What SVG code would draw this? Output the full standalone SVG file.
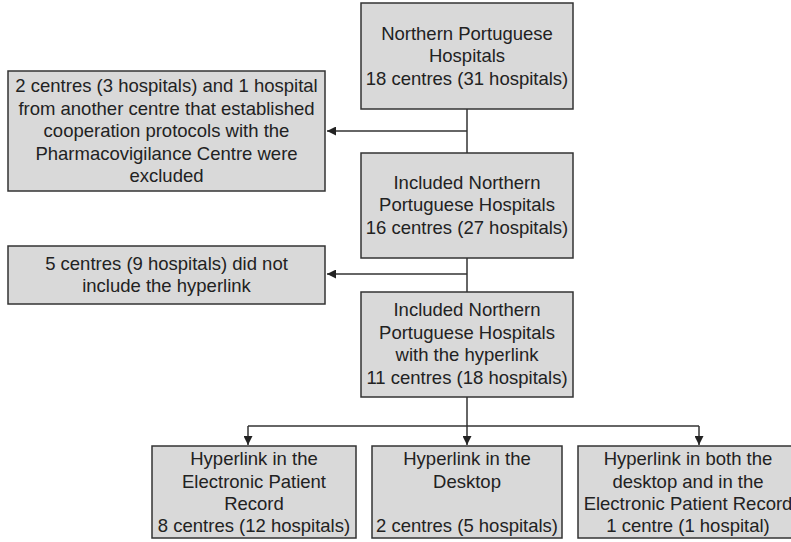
<svg xmlns="http://www.w3.org/2000/svg" width="791" height="542" viewBox="0 0 791 542">
  <style>
    .box { fill: #d9d9d9; stroke: #333333; stroke-width: 1.5; }
    .lbl { font-family: "Liberation Sans", Arial, Helvetica, sans-serif; font-size: 18.5px; fill: #222222; text-anchor: middle; }
    .conn { fill: none; stroke: #333333; stroke-width: 1.5; }
  </style>
  <defs>
    <marker id="arrow" viewBox="0 0 10 10" refX="10" refY="5" markerWidth="9" markerHeight="9" markerUnits="userSpaceOnUse" orient="auto">
      <path d="M0,0 L10,5 L0,10 z" fill="#222222"/>
    </marker>
  </defs>
  <rect width="791" height="542" fill="#ffffff"/>

  <!-- connectors -->
  <g id="connectors">
    <line class="conn" x1="467" y1="109" x2="467" y2="153"/>
    <line class="conn" x1="467" y1="131" x2="327" y2="131" marker-end="url(#arrow)"/>
    <line class="conn" x1="467" y1="258" x2="467" y2="292"/>
    <line class="conn" x1="467" y1="274" x2="327" y2="274" marker-end="url(#arrow)"/>
    <line class="conn" x1="467" y1="397" x2="467" y2="445" marker-end="url(#arrow)"/>
    <line class="conn" x1="248" y1="426" x2="699" y2="426"/>
    <line class="conn" x1="248" y1="426" x2="248" y2="445" marker-end="url(#arrow)"/>
    <line class="conn" x1="699" y1="426" x2="699" y2="445" marker-end="url(#arrow)"/>
  </g>

  <!-- all hospitals -->
  <g id="all-hospitals">
    <rect class="box" x="361" y="3" width="212" height="106"/>
    <text class="lbl" x="467" y="39.5">Northern Portuguese</text>
    <text class="lbl" x="467" y="62">Hospitals</text>
    <text class="lbl" x="467" y="85">18 centres (31 hospitals)</text>
  </g>

  <!-- excluded centres -->
  <g id="excluded">
    <rect class="box" x="8" y="71" width="317" height="120"/>
    <text class="lbl" x="166.5" y="92">2 centres (3 hospitals) and 1 hospital</text>
    <text class="lbl" x="166.5" y="114.5">from another centre that established</text>
    <text class="lbl" x="166.5" y="137">cooperation protocols with the</text>
    <text class="lbl" x="166.5" y="159.5">Pharmacovigilance Centre were</text>
    <text class="lbl" x="166.5" y="182">excluded</text>
  </g>

  <!-- included hospitals -->
  <g id="included">
    <rect class="box" x="361" y="153" width="212" height="105"/>
    <text class="lbl" x="467" y="188.5">Included Northern</text>
    <text class="lbl" x="467" y="211">Portuguese Hospitals</text>
    <text class="lbl" x="467" y="233.5">16 centres (27 hospitals)</text>
  </g>

  <!-- centres without hyperlink -->
  <g id="no-hyperlink">
    <rect class="box" x="8" y="246" width="317" height="58"/>
    <text class="lbl" x="166.5" y="270">5 centres (9 hospitals) did not</text>
    <text class="lbl" x="166.5" y="292">include the hyperlink</text>
  </g>

  <!-- included with hyperlink -->
  <g id="with-hyperlink">
    <rect class="box" x="361" y="292" width="212" height="105"/>
    <text class="lbl" x="467" y="316">Included Northern</text>
    <text class="lbl" x="467" y="338.5">Portuguese Hospitals</text>
    <text class="lbl" x="467" y="361">with the hyperlink</text>
    <text class="lbl" x="467" y="383.5">11 centres (18 hospitals)</text>
  </g>

  <!-- hyperlink in the EPR -->
  <g id="epr">
    <rect class="box" x="152" y="446" width="204" height="92"/>
    <text class="lbl" x="254" y="465">Hyperlink in the</text>
    <text class="lbl" x="254" y="487.5">Electronic Patient</text>
    <text class="lbl" x="254" y="510">Record</text>
    <text class="lbl" x="254" y="532">8 centres (12 hospitals)</text>
  </g>

  <!-- hyperlink on the desktop -->
  <g id="desktop">
    <rect class="box" x="372" y="446" width="190" height="92"/>
    <text class="lbl" x="467" y="465">Hyperlink in the</text>
    <text class="lbl" x="467" y="487.5">Desktop</text>
    <text class="lbl" x="467" y="532">2 centres (5 hospitals)</text>
  </g>

  <!-- hyperlink in both -->
  <g id="both">
    <rect class="box" x="578" y="446" width="220" height="92"/>
    <text class="lbl" x="688" y="465">Hyperlink in both the</text>
    <text class="lbl" x="688" y="487.5">desktop and in the</text>
    <text class="lbl" x="688" y="510">Electronic Patient Record</text>
    <text class="lbl" x="688" y="532">1 centre (1 hospital)</text>
  </g>
</svg>
